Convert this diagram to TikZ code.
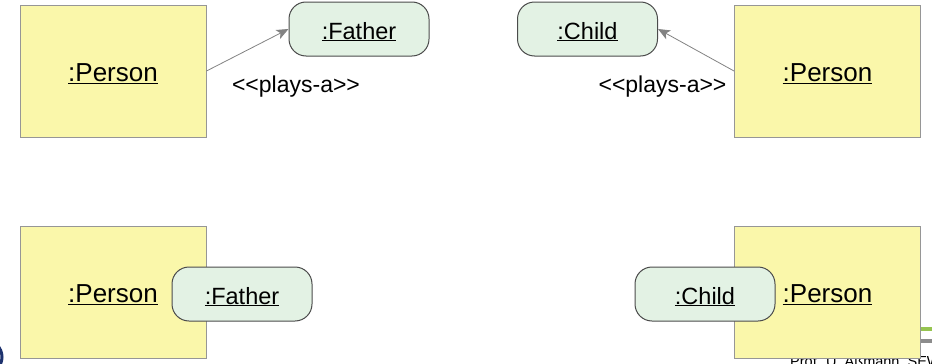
\documentclass[tikz,border=0pt]{standalone}
\usepackage{fontspec}
\setmainfont{Liberation Sans}[Ligatures=TeXOff]
\usetikzlibrary{arrows.meta}

\definecolor{objyellow}{RGB}{250,247,170}
\definecolor{objborder}{RGB}{150,150,150}
\definecolor{rolegreen}{RGB}{227,242,228}
\definecolor{roleborder}{RGB}{75,75,75}
\definecolor{linkgray}{RGB}{130,130,130}
\definecolor{barblue}{RGB}{30,50,110}
\definecolor{bargreen}{RGB}{150,196,80}
\definecolor{bargray}{RGB}{140,140,140}

\begin{document}
\begin{tikzpicture}[x=1pt,y=-1pt,
    object/.style={draw=objborder,fill=objyellow,line width=1pt,minimum width=186pt,minimum height=132pt,inner sep=0,text height=21pt,text depth=0pt,font=\fontsize{26}{30}\selectfont},
    role/.style={draw=roleborder,fill=rolegreen,line width=1pt,rounded corners=17pt,minimum width=140pt,minimum height=54pt,inner sep=0,text height=20pt,text depth=0pt,font=\fontsize{23.5}{28}\selectfont},
    playsa/.style={draw=linkgray,line width=0.8pt,-{Stealth[length=12pt,width=10pt,inset=3pt,fill=linkgray]}},
    stereo/.style={inner sep=0,font=\fontsize{23}{28}\selectfont}]
    \useasboundingbox (0,0) rectangle (932,364);
    \clip (0,0) rectangle (932,364);

    % slide footer, cut off at the lower edge
    \draw[barblue,line width=3pt] (-15,357) circle (17);
    \fill[bargreen] (918,327) rectangle (932,331);
    \fill[bargray] (918,339) rectangle (932,343);
    \node[anchor=base west,inner sep=0,font=\fontsize{14.5}{16}\selectfont] (footer) at (790,366) {Prof. U. Aßmann, SEW};

    % roles as separate objects
    \node[object] (person1) at (113,71) {\underline{:Person}};
    \node[object] (person2) at (827.5,71) {\underline{:Person}};
    \node[role] (father1) at (359,29) {\underline{:Father}};
    \node[role] (child1) at (587.5,29) {\underline{:Child}};
    \draw[playsa] (person1.east) -- (father1.west);
    \draw[playsa] (person2.west) -- (child1.east);
    \node[stereo] (plays1) at (296,87) {<<plays-a>>};
    \node[stereo] (plays2) at (662.5,87) {<<plays-a>>};

    % roles attached to the object
    \node[object] (person3) at (113,292) {\underline{:Person}};
    \node[role] (father2) at (242,294) {\underline{:Father}};
    \node[object] (person4) at (827.5,292) {\underline{:Person}};
    \node[role] (child2) at (705,294) {\underline{:Child}};
\end{tikzpicture}
\end{document}
